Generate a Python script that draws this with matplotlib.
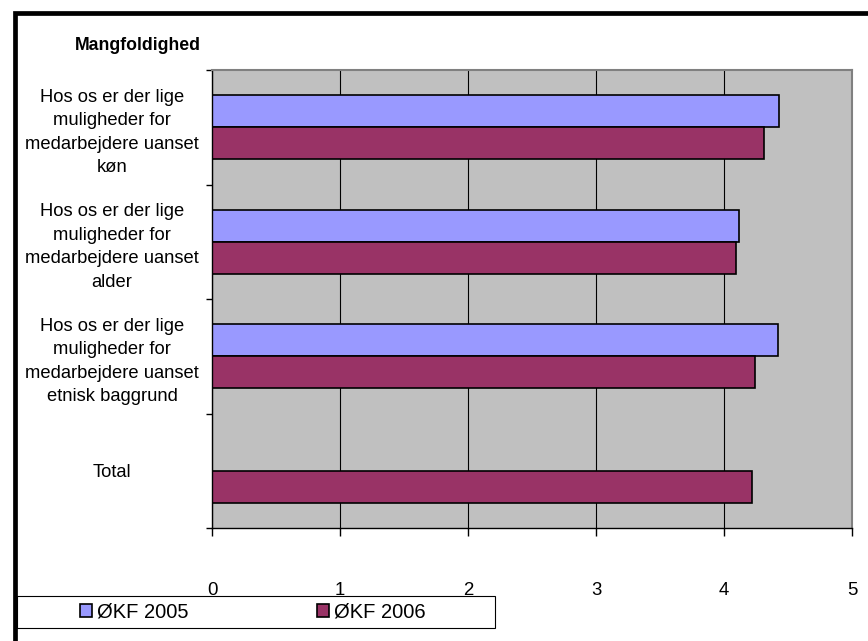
import numpy as np
import matplotlib
matplotlib.use('Agg')
import matplotlib.pyplot as plt
from matplotlib.lines import Line2D
from matplotlib.patches import Rectangle

plt.rcParams['font.family'] = ['Liberation Sans', 'DejaVu Sans']

categories = ['Hos os er der lige\nmuligheder for\nmedarbejdere uanset\nkøn',
              'Hos os er der lige\nmuligheder for\nmedarbejdere uanset\nalder',
              'Hos os er der lige\nmuligheder for\nmedarbejdere uanset\netnisk baggrund',
              'Total']
okf_2005 = [4.43, 4.12, 4.42, np.nan]
okf_2006 = [4.31, 4.09, 4.24, 4.22]
series_names = ['ØKF 2005', 'ØKF 2006']
colors = ['#9999FF', '#993366']

W, H = 868, 641
fig = plt.figure(figsize=(W / 100, H / 100), dpi=100)
ax = fig.add_axes([212 / W, 1 - 528 / H, 640 / W, 458 / H])

y = np.arange(len(categories))
bh = 0.28
b1 = ax.barh(y - bh / 2, okf_2005, height=bh, color=colors[0], edgecolor='black', linewidth=1.2)
b2 = ax.barh(y + bh / 2, okf_2006, height=bh, color=colors[1], edgecolor='black', linewidth=1.2)

ax.set_facecolor('#C0C0C0')
ax.set_xlim(0, 5)
ax.set_ylim(len(categories) - 0.5, -0.5)
ax.set_xticks(range(6))
ax.tick_params(axis='x', direction='out', length=6, width=1, pad=33, labelsize=13.4, color='black')
ax.xaxis.grid(True, color='black', linewidth=0.8)
ax.set_axisbelow(True)

ax.set_yticks(y)
ax.set_yticklabels(categories, ha='center', fontsize=13.2, linespacing=1.5)
ax.tick_params(axis='y', which='major', length=0, pad=72)
ax.set_yticks(np.arange(len(categories) + 1) - 0.5, minor=True)
ax.tick_params(axis='y', which='minor', direction='out', length=4, width=1, color='black')

for s in ax.spines.values():
    s.set_color('#808080')
    s.set_linewidth(1.5)
ax.spines['left'].set_color('black')
ax.spines['left'].set_linewidth(1)
ax.spines['bottom'].set_color('black')
ax.spines['bottom'].set_linewidth(1)

fig.text(75 / W, 1 - 46 / H, 'Mangfoldighed', fontsize=12.7, fontweight='bold', va='center', ha='left')

# legend box
fig.add_artist(Rectangle((17 / W, 1 - 628 / H), 478 / W, 32 / H, transform=fig.transFigure,
                         facecolor='white', edgecolor='black', linewidth=0.8))
fig.legend([b1, b2], series_names, loc='center', bbox_to_anchor=(253 / W, 1 - 612 / H),
           ncol=2, frameon=False, fontsize=14.5, handlelength=0.6, handleheight=0.6,
           handletextpad=0.25, columnspacing=6.4)

# outer frame
fig.add_artist(Line2D([14.5 / W, 14.5 / W, 1.0], [0.0, 1 - 12.5 / H, 1 - 12.5 / H],
                      transform=fig.transFigure, color='black', linewidth=3.4,
                      solid_joinstyle='miter'))

fig.savefig('out.png', dpi=100)
